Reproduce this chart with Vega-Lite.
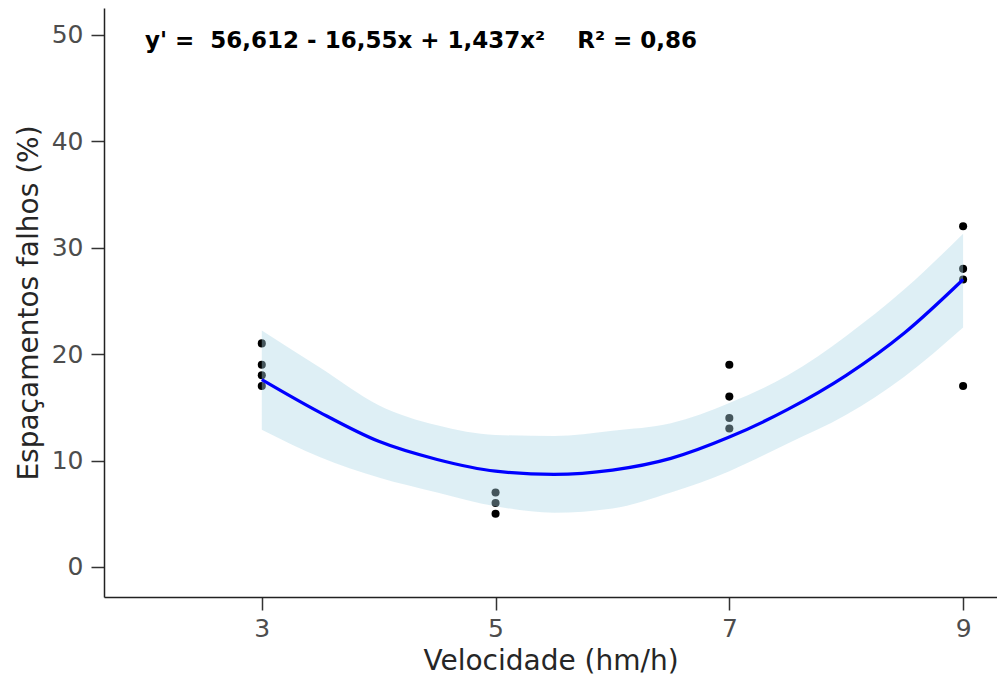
{
  "$schema": "https://vega.github.io/schema/vega-lite/v6.json",
  "width": 893,
  "height": 589,
  "autosize": {"type": "none"},
  "padding": {"left": 104, "top": 8, "right": 0, "bottom": 95},
  "background": "white",
  "config": {
    "view": {"stroke": null},
    "font": "DejaVu Sans"
  },
  "title": {
    "text": "y' =\u00a0 56,612 - 16,55x + 1,437x²\u00a0\u00a0\u00a0\u00a0R² = 0,86",
    "anchor": "start",
    "frame": "group",
    "orient": "top",
    "offset": 0,
    "baseline": "middle",
    "dx": 41,
    "dy": 56,
    "font": "DejaVu Sans",
    "fontWeight": "bold",
    "fontSize": 23,
    "color": "black"
  },
  "datasets": {
    "obs": [
      {"vel": 3, "esp": 21}, {"vel": 3, "esp": 19}, {"vel": 3, "esp": 18}, {"vel": 3, "esp": 17},
      {"vel": 5, "esp": 7}, {"vel": 5, "esp": 6}, {"vel": 5, "esp": 5},
      {"vel": 7, "esp": 19}, {"vel": 7, "esp": 16}, {"vel": 7, "esp": 14}, {"vel": 7, "esp": 13},
      {"vel": 9, "esp": 32}, {"vel": 9, "esp": 28}, {"vel": 9, "esp": 27}, {"vel": 9, "esp": 17}
    ],
    "fit": [
      {"vel": 3.0, "fit": 17.6, "lo": 12.9, "hi": 22.2},
      {"vel": 3.5, "fit": 14.5, "lo": 10.3, "hi": 18.7},
      {"vel": 4.0, "fit": 11.8, "lo": 8.4, "hi": 15.2},
      {"vel": 4.5, "fit": 10.1, "lo": 7.0, "hi": 13.3},
      {"vel": 5.0, "fit": 9.0, "lo": 5.7, "hi": 12.4},
      {"vel": 5.5, "fit": 8.7, "lo": 5.1, "hi": 12.3},
      {"vel": 6.0, "fit": 9.1, "lo": 5.5, "hi": 12.8},
      {"vel": 6.5, "fit": 10.2, "lo": 7.0, "hi": 13.5},
      {"vel": 7.0, "fit": 12.2, "lo": 9.0, "hi": 15.4},
      {"vel": 7.5, "fit": 14.8, "lo": 11.6, "hi": 18.0},
      {"vel": 8.0, "fit": 18.0, "lo": 14.3, "hi": 21.7},
      {"vel": 8.5, "fit": 22.0, "lo": 17.9, "hi": 26.1},
      {"vel": 9.0, "fit": 27.0, "lo": 22.5, "hi": 31.3}
    ]
  },
  "encoding": {
    "x": {
      "field": "vel", "type": "quantitative",
      "scale": {"domain": [1.65, 9.29], "nice": false, "zero": false},
      "axis": {
        "title": "Velocidade (hm/h)", "values": [3, 5, 7, 9], "grid": false,
        "domainColor": "#222", "domainWidth": 1.5, "tickColor": "#333", "tickWidth": 1.5, "tickSize": 13,
        "labelFont": "DejaVu Sans", "labelFontSize": 25, "labelColor": "#4d4d4d", "labelPadding": 6,
        "titleFont": "DejaVu Sans", "titleFontSize": 28, "titleFontWeight": "normal", "titleColor": "#262626", "titlePadding": 6
      }
    }
  },
  "layer": [
    {
      "data": {"name": "obs"},
      "mark": {"type": "circle", "size": 65, "color": "black", "opacity": 1},
      "encoding": {
        "y": {
          "field": "esp", "type": "quantitative",
          "scale": {"domain": [-2.82, 52.5], "nice": false, "zero": false},
          "axis": {
            "title": "Espaçamentos falhos (%)", "values": [0, 10, 20, 30, 40, 50], "grid": false,
            "domainColor": "#222", "domainWidth": 1.5, "tickColor": "#333", "tickWidth": 1.5, "tickSize": 13,
            "labelFont": "DejaVu Sans", "labelFontSize": 25, "labelColor": "#4d4d4d", "labelPadding": 8,
            "titleFont": "DejaVu Sans", "titleFontSize": 28, "titleFontWeight": "normal", "titleColor": "#262626", "titlePadding": 8
          }
        }
      }
    },
    {
      "data": {"name": "fit"},
      "mark": {"type": "area", "color": "#ADD8E6", "opacity": 0.4, "interpolate": "monotone"},
      "encoding": {
        "y": {"field": "lo", "type": "quantitative"},
        "y2": {"field": "hi"}
      }
    },
    {
      "data": {"name": "fit"},
      "mark": {"type": "line", "color": "#0000FF", "strokeWidth": 3.2, "interpolate": "monotone"},
      "encoding": {
        "y": {"field": "fit", "type": "quantitative"}
      }
    }
  ]
}
